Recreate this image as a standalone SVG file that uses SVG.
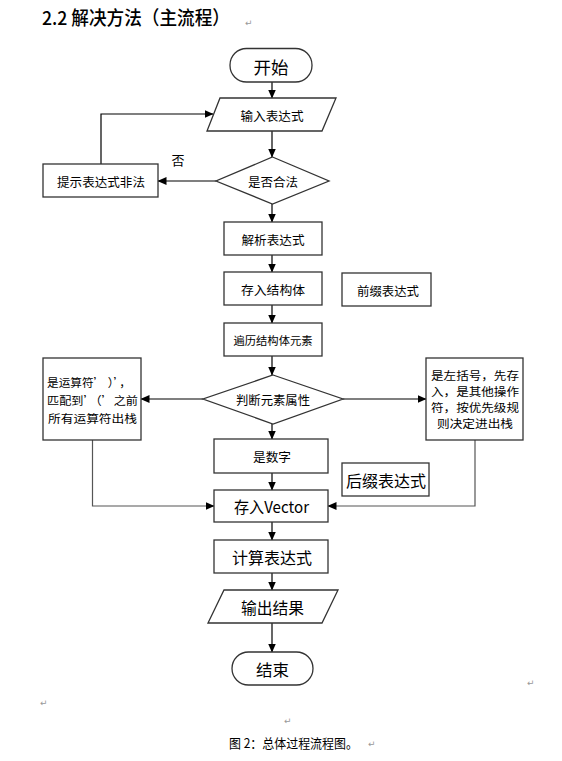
<svg xmlns="http://www.w3.org/2000/svg" width="562" height="761" viewBox="0 0 562 761">
<style>
text{font-family:"Noto Sans CJK SC","Liberation Sans",sans-serif;fill:#000;}
.box{fill:#fff;stroke:#333;stroke-width:1.3;}
.c{text-anchor:middle;dominant-baseline:central;}
.s{font-size:12.5px;}
.t{font-size:11.5px;}
.m{font-size:16px;}
.l{font-size:17px;}
.conn{fill:none;stroke:#000;stroke-width:1.2;}
.gray{stroke:#555;}
.ret{font-family:"DejaVu Sans",sans-serif;font-size:9px;fill:#999;}
</style>
<defs>
<marker id="arr" markerWidth="9" markerHeight="8" refX="8.5" refY="4" orient="auto" markerUnits="userSpaceOnUse">
<path d="M0,0 L9,4 L0,8 Z" fill="#000"/>
</marker>
</defs>

<text x="42" y="25" style="font-size:19px;font-weight:500" textLength="188" lengthAdjust="spacingAndGlyphs">2.2 解决方法（主流程）</text>
<text class="ret" x="245" y="26">↵</text>

<g id="connectors">
<path class="conn" d="M272,82 V98" marker-end="url(#arr)"/>
<path class="conn" d="M272,131 V157" marker-end="url(#arr)"/>
<path class="conn" d="M216,181 H158" marker-end="url(#arr)"/>
<path class="conn" d="M101,164 V114 H213" marker-end="url(#arr)"/>
<path class="conn" d="M272,204 V222" marker-end="url(#arr)"/>
<path class="conn" d="M272,255 V272" marker-end="url(#arr)"/>
<path class="conn" d="M272,305 V323" marker-end="url(#arr)"/>
<path class="conn" d="M272,356 V375" marker-end="url(#arr)"/>
<path class="conn" d="M203,399 H141" marker-end="url(#arr)"/>
<path class="conn" d="M343,399 H426" marker-end="url(#arr)"/>
<path class="conn" d="M272,424 V439" marker-end="url(#arr)"/>
<path class="conn" d="M272,473 V490" marker-end="url(#arr)"/>
<path class="conn gray" d="M92.5,440 V506 H214" marker-end="url(#arr)"/>
<path class="conn gray" d="M475,440 V506 H328" marker-end="url(#arr)"/>
<path class="conn" d="M272,522 V540" marker-end="url(#arr)"/>
<path class="conn" d="M272,573 V590" marker-end="url(#arr)"/>
<path class="conn" d="M272,623 V652" marker-end="url(#arr)"/>
<text class="c" x="178" y="159" style="font-size:13px">否</text>
</g>

<g id="start">
<rect class="box" x="230" y="48.5" width="82" height="33.5" rx="16.5"/>
<text class="c l" x="271" y="66" textLength="35" lengthAdjust="spacingAndGlyphs">开始</text>
</g>

<g id="input">
<polygon class="box" points="220,98 336,98 322,131 207,131"/>
<text class="c s" x="272" y="115" textLength="63" lengthAdjust="spacingAndGlyphs">输入表达式</text>
</g>

<g id="valid">
<polygon class="box" points="272.5,157 329,181 272.5,204 216,181"/>
<text class="c s" x="273" y="181" textLength="50" lengthAdjust="spacingAndGlyphs">是否合法</text>
</g>

<g id="illegal">
<rect class="box" x="43" y="164" width="115" height="33"/>
<text class="c s" x="101" y="181" textLength="88" lengthAdjust="spacingAndGlyphs">提示表达式非法</text>
</g>

<g id="parse">
<rect class="box" x="224" y="222" width="98" height="33"/>
<text class="c s" x="273" y="239" textLength="63" lengthAdjust="spacingAndGlyphs">解析表达式</text>
</g>

<g id="store">
<rect class="box" x="224" y="272" width="98" height="33"/>
<text class="c s" x="273" y="289" textLength="64" lengthAdjust="spacingAndGlyphs">存入结构体</text>
</g>

<g id="prefix">
<rect class="box" x="342" y="273" width="89" height="33"/>
<text class="c s" x="388" y="290" textLength="62" lengthAdjust="spacingAndGlyphs">前缀表达式</text>
</g>

<g id="traverse">
<rect class="box" x="224" y="323" width="98" height="33"/>
<text class="c" x="273" y="340" style="font-size:11px" textLength="79" lengthAdjust="spacingAndGlyphs">遍历结构体元素</text>
</g>

<g id="judge">
<polygon class="box" points="273,375 343,399 273,424 203,399"/>
<text class="c s" x="273" y="399" textLength="74" lengthAdjust="spacingAndGlyphs">判断元素属性</text>
</g>

<g id="rparen">
<rect class="box" x="43" y="358" width="98" height="82"/>
<text class="t" x="47" y="382" dominant-baseline="central" textLength="84" lengthAdjust="spacingAndGlyphs">是运算符’ ）’，</text>
<text class="t" x="47" y="400" dominant-baseline="central" textLength="91" lengthAdjust="spacingAndGlyphs">匹配到’（’之前</text>
<text class="c t" x="92.5" y="417.5" textLength="89" lengthAdjust="spacingAndGlyphs">所有运算符出栈</text>
</g>

<g id="lparen">
<rect class="box" x="426" y="358" width="97" height="82"/>
<text class="c t" x="475" y="375" textLength="88" lengthAdjust="spacingAndGlyphs">是左括号，先存</text>
<text class="c t" x="475" y="391" textLength="88" lengthAdjust="spacingAndGlyphs">入，是其他操作</text>
<text class="c t" x="475" y="407" textLength="88" lengthAdjust="spacingAndGlyphs">符，按优先级规</text>
<text class="c t" x="475" y="423" textLength="76" lengthAdjust="spacingAndGlyphs">则决定进出栈</text>
</g>

<g id="number">
<rect class="box" x="214" y="439" width="114" height="34"/>
<text class="c s" x="272" y="456" textLength="38" lengthAdjust="spacingAndGlyphs">是数字</text>
</g>

<g id="postfix">
<rect class="box" x="342" y="463" width="87" height="33"/>
<text class="c m" x="386" y="480" textLength="80" lengthAdjust="spacingAndGlyphs">后缀表达式</text>
</g>

<g id="vector">
<rect class="box" x="214" y="490" width="114" height="32"/>
<text class="c m" x="271.5" y="506" textLength="75" lengthAdjust="spacingAndGlyphs">存入Vector</text>
</g>

<g id="calc">
<rect class="box" x="214" y="540" width="114" height="33"/>
<text class="c m" x="272" y="556.5" textLength="80" lengthAdjust="spacingAndGlyphs">计算表达式</text>
</g>

<g id="output">
<polygon class="box" points="224,590 338,590 322,623 208,623"/>
<text class="c m" x="272.5" y="606.5" textLength="63" lengthAdjust="spacingAndGlyphs">输出结果</text>
</g>

<g id="end">
<rect class="box" x="232" y="652" width="81" height="33" rx="16.5"/>
<text class="c m" x="272.5" y="668.5" textLength="33" lengthAdjust="spacingAndGlyphs">结束</text>
</g>

<text class="ret" x="527" y="686">↵</text>
<text class="ret" x="40" y="706">↵</text>
<text class="ret" x="284" y="724">↵</text>
<text x="229" y="742" dominant-baseline="central" style="font-size:13px" textLength="129" lengthAdjust="spacingAndGlyphs">图 2：总体过程流程图。</text>
<text class="ret" x="368" y="747">↵</text>
</svg>
